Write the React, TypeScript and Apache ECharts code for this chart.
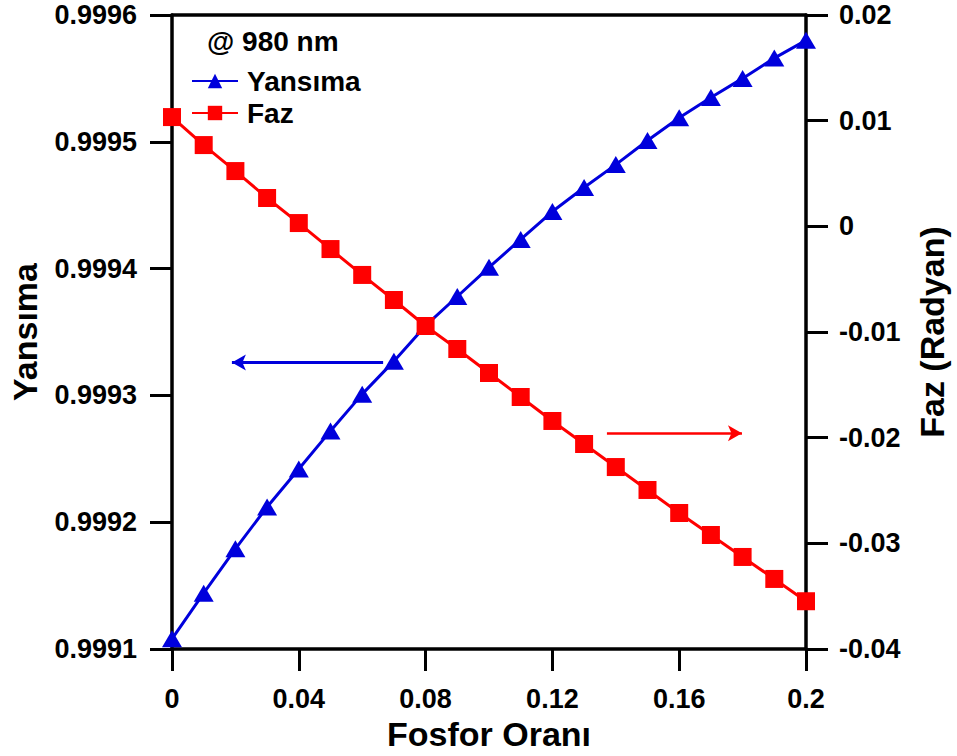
import React, { useEffect, useRef } from "react";
import * as echarts from "echarts";

const fosforOrani = [0, 0.01, 0.02, 0.03, 0.04, 0.05, 0.06, 0.07, 0.08, 0.09, 0.1, 0.11, 0.12, 0.13, 0.14, 0.15, 0.16, 0.17, 0.18, 0.19, 0.2];
const yansima = [0.999108, 0.999144, 0.999179, 0.999212, 0.999242, 0.999272, 0.999301, 0.999327, 0.999355, 0.999378, 0.999401, 0.999423, 0.999445, 0.999464, 0.999482, 0.999501, 0.999519, 0.999535, 0.99955, 0.999566, 0.99958];
const faz = [0.01034, 0.00769, 0.00523, 0.00268, 0.00031, -0.00215, -0.0046, -0.00697, -0.00943, -0.01161, -0.01388, -0.01615, -0.01842, -0.0206, -0.02278, -0.02495, -0.02713, -0.02921, -0.03129, -0.03337, -0.03548];
const blueArrow = { from: [0.0666, 0.999326], to: [0.0189, 0.999326] };
const redArrow = { from: [0.1372, -0.01958], to: [0.1798, -0.01958] };

const FONT = "'Liberation Sans', Arial, sans-serif";
const BLUE = "#0000DC";
const RED = "#FF0000";

export default function App() {
  const ref = useRef<HTMLDivElement>(null);
  useEffect(() => {
    if (!ref.current) return;
    const chart = echarts.init(ref.current, null, { renderer: "svg" });
    const labelStyle = { color: "#000", fontFamily: FONT, fontWeight: "bold" as const, fontSize: 27 };
    const nameStyle = { ...labelStyle, fontSize: 34 };
    const axisLine = { show: true, onZero: false, lineStyle: { color: "#000", width: 3.5 } };
    const axisTick = { show: true, inside: false, length: 22, lineStyle: { color: "#000", width: 3 } };
    chart.setOption({
      animation: false,
      backgroundColor: "#fff",
      grid: { left: 172, right: 150, top: 15, bottom: 106, containLabel: false },
      legend: {
        left: 186,
        top: 62,
        orient: "vertical",
        itemWidth: 46,
        itemHeight: 18,
        itemGap: 4,
        textStyle: { ...labelStyle, fontSize: 28, padding: [0, 0, 0, 4] },
        data: ["Yansıma", "Faz"],
      },
      graphic: [
        {
          type: "text",
          left: 207,
          top: 27,
          style: { text: "@ 980 nm", font: `bold 28px ${FONT}`, fill: "#000" },
        },
      ],
      xAxis: [
        {
          type: "value",
          min: 0,
          max: 0.2,
          interval: 0.04,
          name: "Fosfor Oranı",
          nameLocation: "middle",
          nameGap: 68,
          nameTextStyle: nameStyle,
          axisLine,
          axisTick,
          axisLabel: { ...labelStyle, margin: 36, formatter: (v: number) => (v === 0 ? "0" : String(+v.toFixed(2))) },
          splitLine: { show: false },
        },
        {
          type: "value",
          position: "top",
          min: 0,
          max: 0.2,
          axisLine,
          axisTick: { show: false },
          axisLabel: { show: false },
          splitLine: { show: false },
        },
      ],
      yAxis: [
        {
          type: "value",
          position: "left",
          min: 0.9991,
          max: 0.9996,
          interval: 0.0001,
          name: "Yansıma",
          nameLocation: "middle",
          nameRotate: 90,
          nameGap: 130,
          nameTextStyle: nameStyle,
          axisLine,
          axisTick,
          axisLabel: { ...labelStyle, margin: 35, formatter: (v: number) => v.toFixed(4) },
          splitLine: { show: false },
        },
        {
          type: "value",
          position: "right",
          min: -0.04,
          max: 0.02,
          interval: 0.01,
          name: "Faz (Radyan)",
          nameLocation: "middle",
          nameRotate: 90,
          nameGap: 109,
          nameTextStyle: nameStyle,
          axisLine,
          axisTick,
          axisLabel: { ...labelStyle, margin: 33, formatter: (v: number) => (Math.abs(v) < 1e-9 ? "0" : v.toFixed(2)) },
          splitLine: { show: false },
        },
      ],
      series: [
        {
          name: "Yansıma",
          type: "line",
          yAxisIndex: 0,
          data: fosforOrani.map((x, i) => [x, yansima[i]]),
          symbol: "triangle",
          symbolSize: [20, 17],
          itemStyle: { color: BLUE },
          lineStyle: { color: BLUE, width: 3 },
          clip: false,
          z: 3,
          markLine: {
            silent: true,
            symbol: ["none", "arrow"],
            symbolSize: [12, 14],
            label: { show: false },
            lineStyle: { color: BLUE, width: 3, type: "solid" },
            data: [[{ coord: blueArrow.from }, { coord: blueArrow.to }]],
          },
        },
        {
          name: "Faz",
          type: "line",
          yAxisIndex: 1,
          data: fosforOrani.map((x, i) => [x, faz[i]]),
          symbol: "rect",
          symbolSize: 18,
          itemStyle: { color: RED },
          lineStyle: { color: RED, width: 3 },
          clip: false,
          z: 4,
          markLine: {
            silent: true,
            symbol: ["none", "arrow"],
            symbolSize: [12, 14],
            label: { show: false },
            lineStyle: { color: RED, width: 2.5, type: "solid" },
            data: [[{ coord: redArrow.from }, { coord: redArrow.to }]],
          },
        },
      ],
    });
    return () => chart.dispose();
  }, []);
  return <div ref={ref} style={{ width: 957, height: 756, position: "absolute", left: 0, top: 0 }} />;
}
